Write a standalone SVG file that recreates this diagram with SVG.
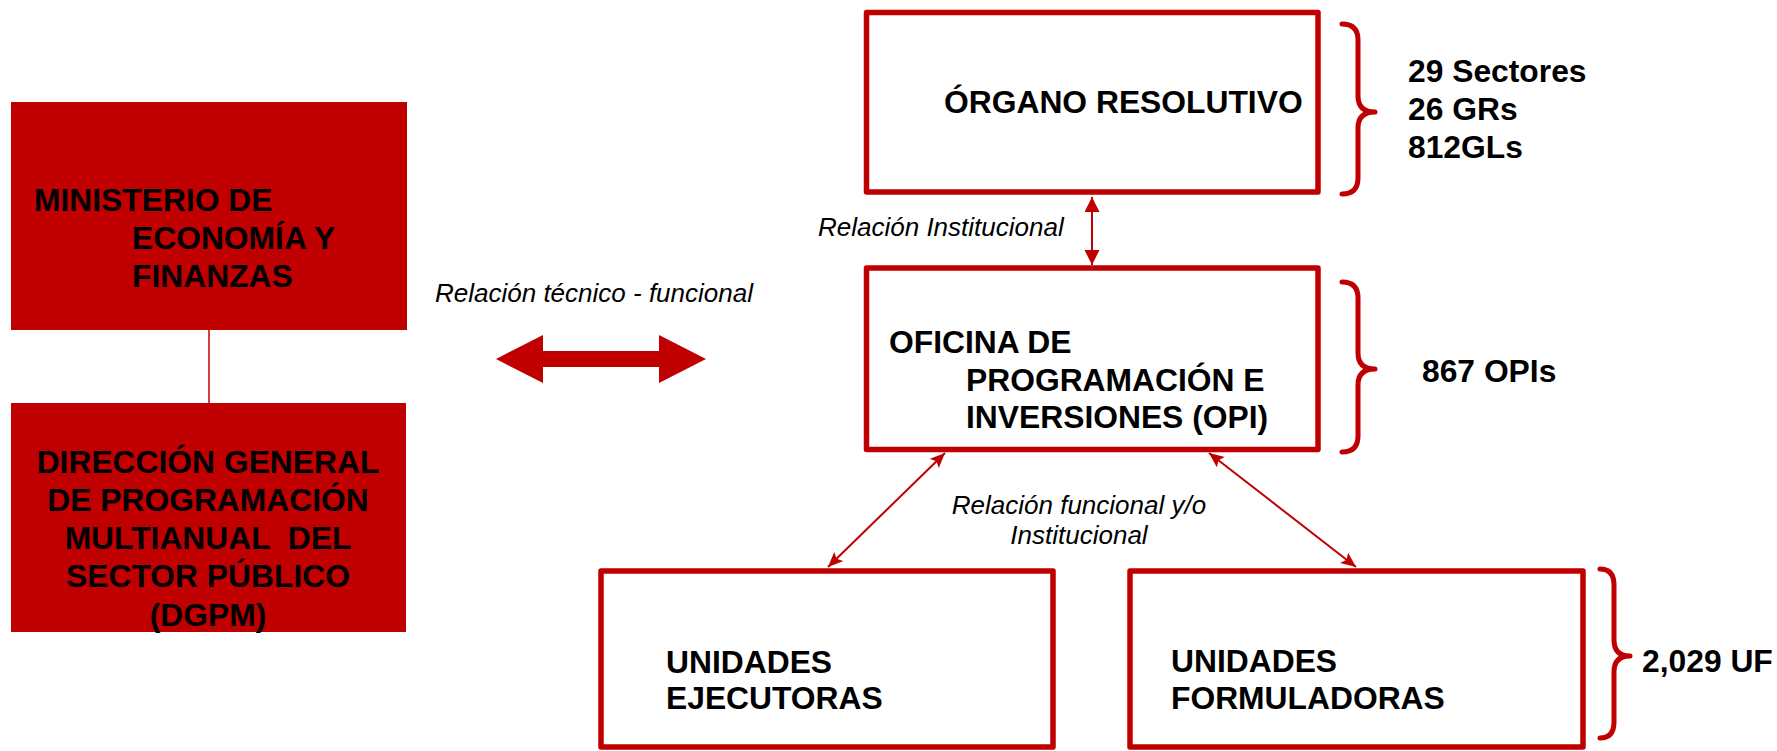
<svg xmlns="http://www.w3.org/2000/svg" width="1777" height="751" viewBox="0 0 1777 751">
<defs>
<marker id="ah" markerUnits="userSpaceOnUse" viewBox="0 0 16 16" markerWidth="16" markerHeight="16" refX="15" refY="7.5" orient="auto-start-reverse"><path d="M0,0 L15,7.5 L0,15 z" fill="#C00000"/></marker>
<marker id="ah2" markerUnits="userSpaceOnUse" viewBox="0 0 16 14" markerWidth="16" markerHeight="14" refX="15" refY="6.5" orient="auto-start-reverse"><path d="M0,0 L15,6.5 L0,13 L3,6.5 z" fill="#C00000"/></marker>
</defs>
<style>
.box{fill:#fff;stroke:#C00000;stroke-width:5.5;stroke-linejoin:round}
.solid{fill:#C00000}
.t{font-family:"Liberation Sans",Arial,sans-serif;font-weight:bold;font-size:31.8px;fill:#000}
.i{font-family:"Liberation Sans",Arial,sans-serif;font-style:italic;font-size:26px;fill:#000}
.brace{fill:none;stroke:#C00000;stroke-width:5;stroke-linecap:round;stroke-linejoin:round}
.conn{stroke:#C00000;stroke-width:2;fill:none}
</style>

<g id="connectors">
<line x1="209" y1="330" x2="209" y2="403" stroke="#C00000" stroke-width="1.5"/>
<polygon class="solid" points="496,359 543,335 543,351 659,351 659,335 706,359 659,383 659,367 543,367 543,383"/>
<line class="conn" x1="1092" y1="197" x2="1092" y2="265" marker-start="url(#ah)" marker-end="url(#ah)"/>
<line class="conn" x1="945" y1="453" x2="828" y2="567" marker-start="url(#ah2)" marker-end="url(#ah2)"/>
<line class="conn" x1="1209" y1="453" x2="1356" y2="567" marker-start="url(#ah2)" marker-end="url(#ah2)"/>
</g>

<g id="mef">
<rect class="solid" x="11" y="102" width="396" height="228"/>
<text class="t" x="34" y="211">MINISTERIO DE</text>
<text class="t" x="132" y="249">ECONOMÍA Y</text>
<text class="t" x="132" y="287">FINANZAS</text>
</g>

<g id="dgpm">
<rect class="solid" x="11" y="403" width="395" height="229"/>
<text class="t" text-anchor="middle" x="208" y="473">DIRECCIÓN GENERAL</text>
<text class="t" text-anchor="middle" x="208" y="511">DE PROGRAMACIÓN</text>
<text class="t" text-anchor="middle" x="208" y="549" style="white-space:pre" xml:space="preserve">MULTIANUAL  DEL</text>
<text class="t" text-anchor="middle" x="208" y="587">SECTOR PÚBLICO</text>
<text class="t" text-anchor="middle" x="208" y="626">(DGPM)</text>
</g>

<g id="label-tecnico">
<text class="i" x="435" y="302">Relación técnico - funcional</text>
</g>

<g id="organo">
<rect class="box" x="866.5" y="12.5" width="451.5" height="179.5"/>
<text class="t" x="944" y="113">ÓRGANO RESOLUTIVO</text>
</g>
<g id="organo-count">
<path class="brace" d="M1342,24 Q1358,24 1358,40 L1358,96 Q1358,112 1375,112 Q1358,112 1358,128 L1358,178 Q1358,194 1342,194"/>
<text class="t" x="1408" y="82">29 Sectores</text>
<text class="t" x="1408" y="120">26 GRs</text>
<text class="t" x="1408" y="158">812GLs</text>
</g>

<g id="label-institucional">
<text class="i" x="818" y="236">Relación Institucional</text>
</g>

<g id="opi">
<rect class="box" x="866.5" y="268" width="451.5" height="181.5"/>
<text class="t" x="889" y="353">OFICINA DE</text>
<text class="t" x="966" y="391">PROGRAMACIÓN E</text>
<text class="t" x="966" y="428">INVERSIONES (OPI)</text>
</g>
<g id="opi-count">
<path class="brace" d="M1342,282 Q1358,282 1358,298 L1358,353 Q1358,369 1375,369 Q1358,369 1358,385 L1358,436 Q1358,452 1342,452"/>
<text class="t" x="1422" y="382">867 OPIs</text>
</g>

<g id="label-funcional">
<text class="i" text-anchor="middle" x="1079" y="514">Relación funcional y/o</text>
<text class="i" text-anchor="middle" x="1079" y="544">Institucional</text>
</g>

<g id="ue">
<rect class="box" x="601" y="571" width="452" height="176"/>
<text class="t" x="666" y="673">UNIDADES</text>
<text class="t" x="666" y="709">EJECUTORAS</text>
</g>

<g id="uf">
<rect class="box" x="1130" y="571" width="453" height="176"/>
<text class="t" x="1171" y="672">UNIDADES</text>
<text class="t" x="1171" y="709">FORMULADORAS</text>
</g>
<g id="uf-count">
<path class="brace" d="M1600,569 Q1614,569 1614,585 L1614,640 Q1614,656 1630,656 Q1614,656 1614,672 L1614,722 Q1614,738 1600,738"/>
<text class="t" x="1642" y="672">2,029 UF</text>
</g>
</svg>
